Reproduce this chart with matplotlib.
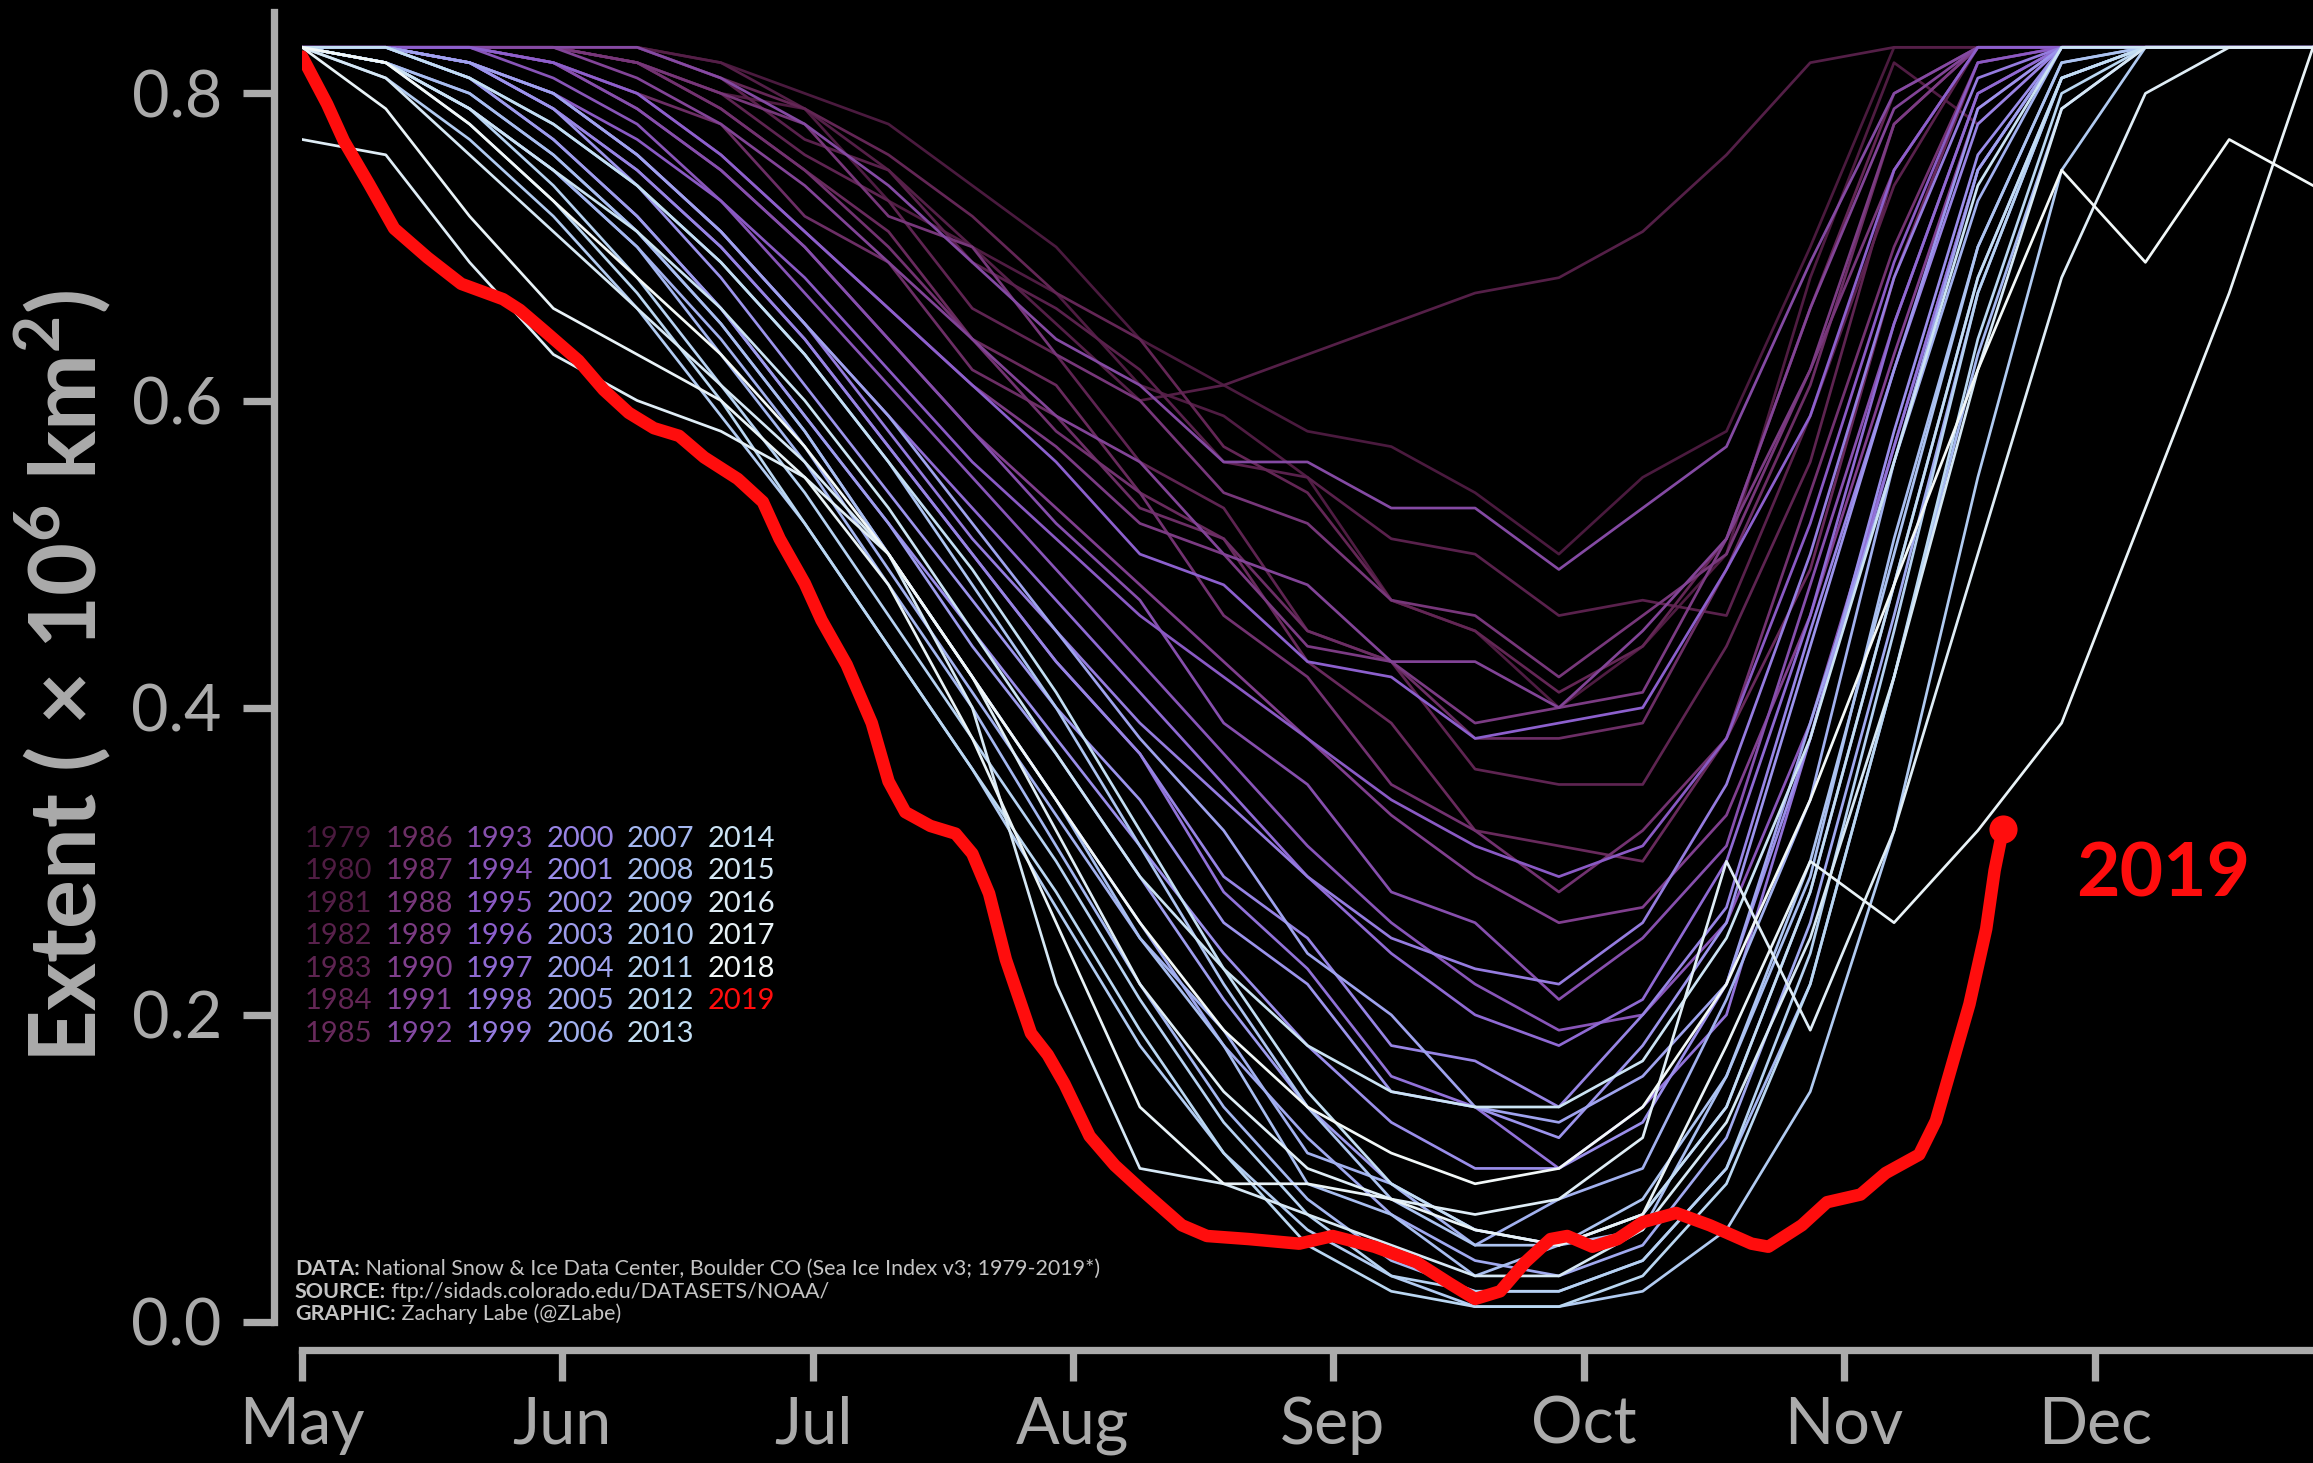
import matplotlib
matplotlib.use('Agg')
import matplotlib.pyplot as plt
from matplotlib.colors import LinearSegmentedColormap

plt.rcParams['font.family'] = ['Lato', 'DejaVu Sans']
plt.rcParams['mathtext.fontset'] = 'custom'
plt.rcParams['mathtext.rm'] = 'Lato'
plt.rcParams['mathtext.bf'] = 'Lato:bold'

# days since May 1
days = [0, 10, 20, 30, 40, 50, 60, 70, 80, 90, 100, 110, 120,
        130, 140, 150, 160, 170, 180, 190, 200, 210, 220, 230, 240]

# sea ice extent (x10^6 km^2)
y1979 = [.83, .83, .83, .83, .83, .82, .80, .78, .74, .70, .64, .61, .58, .57, .54, .50, .55, .58, .70, .83, .83, .83, .83, .83, .83]
y1980 = [.83, .83, .83, .83, .82, .80, .79, .73, .70, .67, .61, .59, .55, .47, .45, .40, .44, .50, .68, .82, .78, .83, .83, .83, .83]
y1981 = [.83, .83, .83, .83, .83, .82, .79, .75, .70, .65, .60, .61, .63, .65, .67, .68, .71, .76, .82, .83, .83, .83, .83, .83, .83]
y1982 = [.83, .83, .83, .83, .83, .81, .77, .75, .69, .66, .62, .56, .55, .51, .50, .46, .47, .46, .59, .74, .83, .83, .83, .83, .83]
y1983 = [.83, .83, .83, .83, .82, .80, .76, .73, .66, .63, .56, .53, .45, .43, .36, .35, .35, .44, .56, .75, .83, .83, .83, .83, .83]
y1984 = [.83, .83, .83, .83, .83, .81, .79, .76, .72, .67, .64, .57, .54, .47, .45, .41, .44, .51, .66, .80, .83, .83, .83, .83, .83]
y1985 = [.83, .83, .83, .83, .82, .79, .75, .71, .64, .61, .54, .51, .43, .39, .32, .31, .30, .38, .49, .68, .82, .83, .83, .83, .83]
y1986 = [.83, .83, .83, .82, .80, .78, .72, .69, .62, .59, .53, .51, .45, .43, .38, .38, .39, .49, .61, .78, .83, .83, .83, .83, .83]
y1987 = [.83, .83, .83, .83, .82, .79, .75, .70, .64, .58, .54, .46, .42, .35, .32, .28, .32, .38, .54, .70, .82, .83, .83, .83, .83]
y1988 = [.83, .83, .83, .83, .82, .80, .78, .72, .70, .63, .60, .54, .52, .47, .46, .42, .46, .50, .62, .75, .83, .83, .83, .83, .83]
y1989 = [.83, .83, .83, .82, .80, .76, .71, .66, .61, .57, .52, .50, .44, .43, .39, .40, .41, .51, .62, .78, .83, .83, .83, .83, .83]
y1990 = [.83, .83, .83, .82, .79, .75, .70, .64, .58, .53, .48, .43, .38, .33, .29, .26, .27, .33, .46, .63, .79, .83, .83, .83, .83]
y1991 = [.83, .83, .83, .83, .81, .78, .74, .69, .64, .59, .56, .50, .48, .43, .43, .40, .45, .51, .66, .79, .83, .83, .83, .83, .83]
y1992 = [.83, .83, .83, .83, .83, .81, .78, .74, .69, .64, .61, .56, .56, .53, .53, .49, .53, .57, .69, .80, .83, .83, .83, .83, .83]
y1993 = [.83, .83, .83, .82, .79, .75, .70, .64, .58, .52, .47, .39, .35, .28, .26, .21, .25, .31, .48, .65, .80, .83, .83, .83, .83]
y1994 = [.83, .83, .83, .81, .78, .73, .67, .61, .55, .49, .43, .37, .31, .26, .22, .19, .20, .26, .39, .57, .75, .83, .83, .83, .83]
y1995 = [.83, .83, .82, .80, .77, .73, .68, .62, .56, .51, .46, .42, .38, .34, .31, .29, .31, .38, .52, .69, .82, .83, .83, .83, .83]
y1996 = [.83, .83, .83, .82, .80, .76, .71, .66, .61, .56, .50, .48, .43, .42, .38, .39, .40, .49, .59, .75, .83, .83, .83, .83, .83]
y1997 = [.83, .83, .82, .80, .76, .71, .65, .59, .53, .47, .41, .35, .29, .24, .20, .18, .21, .30, .46, .65, .80, .83, .83, .83, .83]
y1998 = [.83, .83, .82, .79, .75, .70, .64, .57, .50, .43, .37, .28, .23, .16, .14, .10, .14, .20, .38, .57, .75, .83, .83, .83, .83]
y1999 = [.83, .83, .82, .80, .76, .71, .65, .58, .51, .45, .39, .34, .29, .25, .23, .22, .26, .35, .50, .68, .81, .83, .83, .83, .83]
y2000 = [.83, .83, .82, .79, .75, .70, .64, .57, .50, .43, .37, .29, .25, .18, .17, .14, .20, .27, .45, .62, .78, .83, .83, .83, .83]
y2001 = [.83, .83, .81, .77, .72, .66, .59, .52, .45, .38, .31, .24, .18, .13, .10, .10, .13, .22, .38, .58, .76, .83, .83, .83, .83]
y2002 = [.83, .83, .82, .79, .74, .68, .61, .54, .47, .40, .34, .26, .22, .15, .14, .12, .18, .26, .44, .62, .79, .83, .83, .83, .83]
y2003 = [.83, .83, .81, .77, .72, .66, .59, .52, .44, .37, .29, .21, .14, .09, .06, .05, .07, .14, .28, .48, .68, .81, .83, .83, .83]
y2004 = [.83, .83, .82, .80, .76, .71, .65, .59, .52, .45, .38, .32, .24, .20, .14, .13, .16, .22, .39, .56, .75, .83, .83, .83, .83]
y2005 = [.83, .82, .80, .76, .71, .65, .58, .50, .42, .34, .26, .18, .12, .07, .04, .03, .05, .12, .26, .46, .67, .81, .83, .83, .83]
y2006 = [.83, .82, .79, .75, .70, .64, .57, .49, .41, .33, .25, .19, .11, .09, .05, .08, .10, .21, .34, .56, .73, .83, .83, .83, .83]
y2007 = [.83, .82, .79, .75, .70, .63, .56, .48, .40, .31, .22, .14, .08, .04, .02, .02, .04, .10, .22, .42, .63, .79, .83, .83, .83]
y2008 = [.83, .82, .80, .76, .71, .65, .58, .50, .42, .34, .25, .18, .09, .07, .03, .05, .06, .16, .29, .51, .70, .82, .83, .83, .83]
y2009 = [.83, .83, .81, .78, .74, .69, .63, .56, .48, .40, .31, .22, .14, .08, .05, .05, .08, .16, .30, .50, .70, .82, .83, .83, .83]
y2010 = [.83, .81, .77, .72, .66, .59, .52, .44, .36, .27, .18, .11, .06, .03, .01, .01, .02, .06, .15, .32, .55, .75, .83, .83, .83]
y2011 = [.83, .82, .79, .74, .68, .61, .54, .46, .38, .30, .21, .13, .07, .03, .02, .02, .04, .10, .24, .45, .67, .81, .83, .83, .83]
y2012 = [.83, .82, .78, .73, .67, .60, .52, .44, .36, .28, .19, .11, .05, .02, .01, .01, .03, .09, .22, .42, .64, .80, .83, .83, .83]
y2013 = [.83, .83, .81, .78, .74, .69, .63, .56, .49, .41, .32, .23, .15, .09, .06, .05, .07, .14, .28, .48, .68, .81, .83, .83, .83]
y2014 = [.83, .82, .79, .75, .71, .66, .60, .53, .45, .37, .29, .23, .18, .15, .14, .14, .17, .25, .38, .56, .74, .83, .83, .83, .83]
y2015 = [.83, .81, .76, .71, .66, .61, .56, .50, .40, .22, .10, .09, .07, .05, .03, .03, .06, .13, .25, .42, .62, .79, .83, .83, .83]
y2016 = [.77, .76, .69, .63, .60, .58, .55, .50, .42, .32, .22, .15, .10, .08, .07, .08, .12, .30, .19, .32, .50, .68, .80, .83, .83]
y2017 = [.83, .79, .72, .66, .63, .60, .55, .48, .38, .26, .14, .09, .09, .08, .06, .05, .07, .18, .30, .26, .32, .39, .53, .67, .83]
y2018 = [.83, .82, .78, .73, .68, .63, .57, .50, .42, .34, .26, .19, .14, .11, .09, .10, .14, .22, .34, .48, .62, .75, .69, .77, .74]

years = list(range(1979, 2019))
hist = [y1979, y1980, y1981, y1982, y1983, y1984, y1985, y1986, y1987, y1988,
        y1989, y1990, y1991, y1992, y1993, y1994, y1995, y1996, y1997, y1998,
        y1999, y2000, y2001, y2002, y2003, y2004, y2005, y2006, y2007, y2008,
        y2009, y2010, y2011, y2012, y2013, y2014, y2015, y2016, y2017, y2018]

# 2019
days_2019 = [0, 3, 5, 8, 11, 15, 19, 24, 26, 29, 33, 36, 39, 42, 45, 48, 52,
             55, 57, 60, 62, 65, 68, 70, 72, 75, 78, 80, 82, 84, 87, 89, 91,
             94, 97, 100, 105, 108, 113, 119, 123, 128, 133, 137, 140, 143,
             146, 149, 151, 154, 157, 160, 164, 168, 173, 175, 179, 182, 186,
             189, 193, 195, 197, 199, 201, 202, 203]
ext_2019 = [.824, .793, .769, .741, .712, .693, .676, .666, .659, .645, .626,
            .607, .592, .582, .577, .563, .549, .534, .510, .481, .457, .428,
            .390, .352, .332, .323, .318, .305, .279, .236, .188, .174, .155,
            .121, .102, .087, .063, .056, .054, .051, .056, .049, .039, .025,
            .015, .020, .039, .054, .056, .049, .054, .065, .071, .063, .051,
            .049, .063, .078, .083, .097, .109, .131, .169, .207, .256, .294,
            .321]

month_days = [0, 31, 61, 92, 123, 153, 184, 214]
month_labels = ['May', 'Jun', 'Jul', 'Aug', 'Sep', 'Oct', 'Nov', 'Dec']

gray = '#ababab'
red = '#ff0d0d'
cmap = LinearSegmentedColormap.from_list(
    'dense_r', ['#4a1a3e', '#662858', '#81408f', '#8b5ecb', '#9b90ec',
                '#a3b6f0', '#bcdaf2', '#f2f8f8'])

W, H = 2313, 1463
fig = plt.figure(figsize=(W / 150, H / 150), dpi=150, facecolor='k')
ax = fig.add_axes([302 / W, 141 / H, 1 - 302 / W, 1310 / H])
ax.set_facecolor('k')

n = len(years)
for i, vals in enumerate(hist):
    ax.plot(days, vals, color=cmap(i / (n - 1)), lw=1.3, zorder=2)

ax.plot(days_2019, ext_2019, color=red, lw=6, solid_capstyle='round',
        solid_joinstyle='round', zorder=5)
ax.plot(days_2019[-1], ext_2019[-1], 'o', ms=12.5, color=red, zorder=6)
ax.text(211.7, 0.291, '2019', fontsize=36, fontweight='bold', color=red,
        ha='left', va='center')

ax.set_xlim(0, 240)
ax.set_ylim(0, 0.853)

for s in ['top', 'right']:
    ax.spines[s].set_visible(False)
for s in ['left', 'bottom']:
    ax.spines[s].set_position(('outward', 13.5))
    ax.spines[s].set_color(gray)
    ax.spines[s].set_linewidth(3.5)

ax.set_xticks(month_days)
ax.set_xticklabels(month_labels)
ax.set_yticks([0, 0.2, 0.4, 0.6, 0.8])
ax.set_yticklabels(['0.0', '0.2', '0.4', '0.6', '0.8'])
ax.tick_params(axis='both', colors=gray, width=3.5, length=15, labelsize=31)
ax.tick_params(axis='y', pad=10)
ax.tick_params(axis='x', pad=7)

fig.text(62 / W, 1 - 676 / H,
         'Extent ( \u00d7 10$^{\\mathbf{6}}$ km$^{\\mathbf{2}}$)',
         rotation=90, ha='center', va='center', fontsize=44,
         fontweight='bold', color=gray)

# year legend
for i, yr in enumerate(years + [2019]):
    col, row = i // 7, i % 7
    c = red if yr == 2019 else cmap(i / (n - 1))
    ax.text(0.0015 + col * 0.04, 0.3687 - row * 0.0248, str(yr),
            transform=ax.transAxes, fontsize=14, color=c,
            ha='left', va='center')

# credits
credits = [('DATA:', ' National Snow & Ice Data Center, Boulder CO (Sea Ice Index v3; 1979-2019*)'),
           ('SOURCE:', ' ftp://sidads.colorado.edu/DATASETS/NOAA/'),
           ('GRAPHIC:', ' Zachary Labe (@ZLabe)')]
for k, (head, rest) in enumerate(credits):
    t = fig.text(295 / W, 1 - (1269 + 22.5 * k) / H, head, fontsize=10.3,
                 fontweight='bold', color='#c4c4c4', ha='left', va='center')
    ax.annotate(rest, xy=(1, 0.5), xycoords=t, fontsize=10.3,
                color='#c4c4c4', ha='left', va='center',
                annotation_clip=False)

fig.savefig('out.png', dpi=150, facecolor='k')
